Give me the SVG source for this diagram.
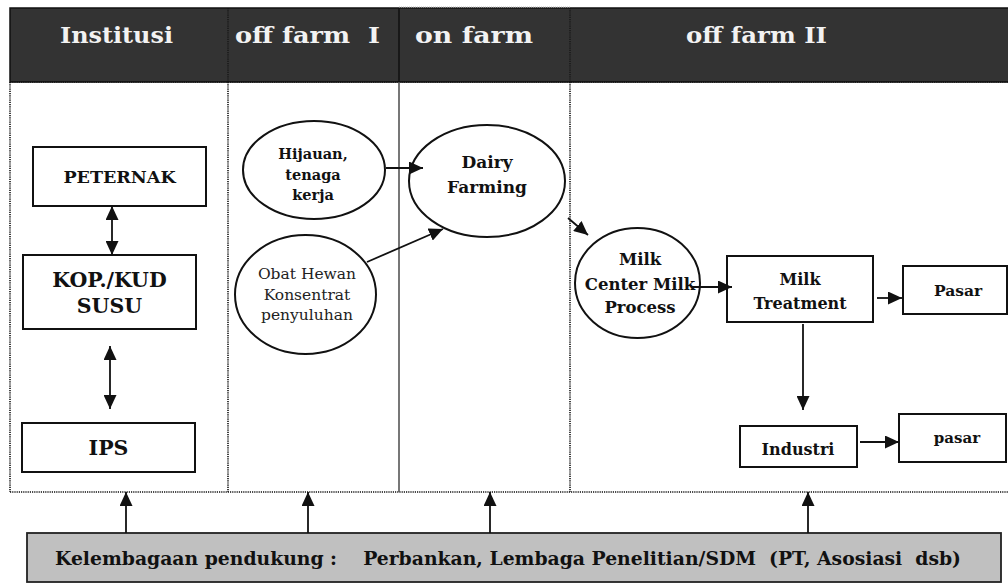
<svg xmlns="http://www.w3.org/2000/svg" width="1008" height="584" viewBox="0 0 1008 584">
<style>
.hd{font-family:"DejaVu Serif","Liberation Serif",serif;font-weight:bold;font-size:23px;fill:#f2f2f2;text-anchor:middle}
.b{font-family:"DejaVu Serif","Liberation Serif",serif;font-weight:bold;fill:#111;text-anchor:middle}
.r{font-family:"DejaVu Serif","Liberation Serif",serif;fill:#222;text-anchor:middle}
.box{fill:#fff;stroke:#111;stroke-width:2}
.ell{fill:#fff;stroke:#111;stroke-width:2}
.dot{fill:none;stroke:#111;stroke-width:1.6;stroke-dasharray:1.2 1}
.ln{fill:none;stroke:#111;stroke-width:1.8}
</style>
<defs>
<marker id="ah" markerUnits="userSpaceOnUse" markerWidth="15" markerHeight="13" refX="14" refY="6.5" orient="auto-start-reverse">
<path d="M0,0 L14,6.5 L0,13 z" fill="#111"/>
</marker>
</defs>
<rect width="1008" height="584" fill="#fff"/>
<g id="header">
<rect x="10" y="8" width="1000" height="74" fill="#333" stroke="#111" stroke-width="1.5"/>
<line x1="228" y1="8" x2="228" y2="82" stroke="#111" stroke-width="1.2" stroke-dasharray="1.2 1"/>
<line x1="399" y1="8" x2="399" y2="82" stroke="#111" stroke-width="1.5"/>
<line x1="570" y1="8" x2="570" y2="82" stroke="#111" stroke-width="1.2" stroke-dasharray="1.2 1"/>
<line x1="399" y1="7" x2="570" y2="7" stroke="#bbb" stroke-width="1" stroke-dasharray="1 1"/>
<text class="hd" x="116.5" y="43" textLength="113" lengthAdjust="spacingAndGlyphs">Institusi</text>
<text class="hd" x="307.5" y="43" textLength="145" lengthAdjust="spacingAndGlyphs" xml:space="preserve">off farm  I</text>
<text class="hd" x="474" y="43" textLength="118" lengthAdjust="spacingAndGlyphs">on farm</text>
<text class="hd" x="756.5" y="43" textLength="141" lengthAdjust="spacingAndGlyphs">off farm II</text>
</g>
<g id="frame">
<line class="dot" x1="10" y1="82" x2="1008" y2="82"/>
<line class="dot" x1="10" y1="82" x2="10" y2="492"/>
<line class="dot" x1="10" y1="492" x2="1008" y2="492"/>
<line class="dot" x1="228" y1="82" x2="228" y2="492"/>
<line x1="399" y1="82" x2="399" y2="492" stroke="#555" stroke-width="1.6"/>
<line class="dot" x1="570" y1="82" x2="570" y2="492"/>
</g>
<g id="peternak">
<rect class="box" x="33" y="147" width="173" height="59"/>
<text class="b" x="119.5" y="183" font-size="17.5">PETERNAK</text>
</g>
<g id="kop">
<rect class="box" x="23" y="255" width="173" height="74"/>
<text class="b" x="109.5" y="287" font-size="20.5">KOP./KUD</text>
<text class="b" x="109.5" y="313" font-size="20.5">SUSU</text>
</g>
<g id="ips">
<rect class="box" x="22" y="423" width="173" height="49"/>
<text class="b" x="108.5" y="455" font-size="20.5">IPS</text>
</g>
<g id="hijauan">
<ellipse class="ell" cx="314" cy="170" rx="71" ry="49"/>
<text class="b" x="313" y="159" font-size="14.5">Hijauan,</text>
<text class="b" x="313" y="180" font-size="14.5">tenaga</text>
<text class="b" x="313" y="200" font-size="14.5">kerja</text>
</g>
<g id="obat">
<ellipse class="ell" cx="305.5" cy="294.5" rx="70.5" ry="59.5"/>
<text class="r" x="307" y="279" font-size="15.5">Obat Hewan</text>
<text class="r" x="307" y="300" font-size="15.5">Konsentrat</text>
<text class="r" x="307" y="320" font-size="15.5">penyuluhan</text>
</g>
<g id="dairy">
<ellipse class="ell" cx="487" cy="181" rx="78" ry="56"/>
<text class="b" x="487" y="168" font-size="17">Dairy</text>
<text class="b" x="487" y="193" font-size="17">Farming</text>
</g>
<g id="milkcenter">
<ellipse class="ell" cx="637.5" cy="283" rx="62.5" ry="55"/>
<text class="b" x="640" y="265" font-size="16.5">Milk</text>
<text class="b" x="640" y="290" font-size="16.5">Center Milk</text>
<text class="b" x="640" y="313" font-size="16.5">Process</text>
</g>
<g id="treatment">
<rect class="box" x="727" y="256" width="146" height="66"/>
<text class="b" x="800" y="285" font-size="16">Milk</text>
<text class="b" x="800" y="309" font-size="16">Treatment</text>
</g>
<g id="pasar1">
<rect class="box" x="903" y="266" width="104" height="48"/>
<text class="b" x="958" y="296" font-size="15.5">Pasar</text>
</g>
<g id="industri">
<rect class="box" x="740" y="426" width="117" height="41"/>
<text class="b" x="798" y="455" font-size="16">Industri</text>
</g>
<g id="pasar2">
<rect class="box" x="899" y="414" width="107" height="48"/>
<text class="b" x="957" y="443" font-size="15">pasar</text>
</g>
<g id="support">
<rect x="27" y="533" width="974" height="49" fill="#c0c0c0" stroke="#222" stroke-width="1.8"/>
<text class="b" x="508" y="565" font-size="18" textLength="906" lengthAdjust="spacingAndGlyphs" xml:space="preserve">Kelembagaan pendukung :    Perbankan, Lembaga Penelitian/SDM  (PT, Asosiasi  dsb)</text>
</g>
<g id="connectors">
<line class="ln" x1="112" y1="206" x2="112" y2="255" marker-start="url(#ah)" marker-end="url(#ah)"/>
<line class="ln" x1="110" y1="346" x2="110" y2="409" marker-start="url(#ah)" marker-end="url(#ah)"/>
<line class="ln" x1="386" y1="168" x2="423" y2="168" marker-end="url(#ah)"/>
<line class="ln" x1="367" y1="262" x2="443" y2="229" marker-end="url(#ah)"/>
<line class="ln" x1="568" y1="218" x2="588" y2="235" marker-end="url(#ah)"/>
<line class="ln" x1="692" y1="287" x2="732" y2="287" marker-end="url(#ah)"/>
<line class="ln" x1="877" y1="298" x2="902" y2="298" marker-end="url(#ah)"/>
<line class="ln" x1="803" y1="324" x2="803" y2="410" marker-end="url(#ah)"/>
<line class="ln" x1="860" y1="442" x2="899" y2="442" marker-end="url(#ah)"/>
<line class="ln" x1="126" y1="533" x2="126" y2="492" marker-end="url(#ah)"/>
<line class="ln" x1="308" y1="533" x2="308" y2="492" marker-end="url(#ah)"/>
<line class="ln" x1="490" y1="533" x2="490" y2="492" marker-end="url(#ah)"/>
<line class="ln" x1="808" y1="533" x2="808" y2="492" marker-end="url(#ah)"/>
</g>
</svg>
